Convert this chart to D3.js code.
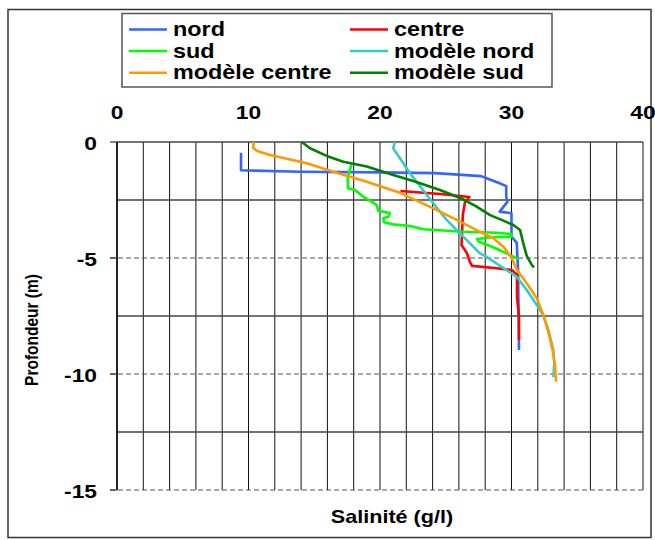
<!DOCTYPE html>
<html>
<head>
<meta charset="utf-8">
<script src="https://cdn.jsdelivr.net/npm/d3@7"></script>
<style>
  html, body { margin: 0; padding: 0; background: #fff; }
  svg { display: block; }
  text { font-family: "Liberation Sans", Arial, sans-serif; font-weight: bold; fill: #000; }
</style>
</head>
<body>
<svg id="chart" width="655" height="540"></svg>
<script>
// Salinity profiles: [salinity g/l, depth m]
const nord = [[9.43,-0.46],[9.43,-1.22],[13.9,-1.28],[20.0,-1.31],[24.2,-1.34],[27.7,-1.47],[28.1,-1.56],[29.1,-1.78],[29.6,-1.90],[29.6,-2.37],[29.7,-2.57],[29.1,-3.0],[30.0,-3.07],[30.0,-4.08],[30.4,-4.35],[30.5,-5.52],[30.57,-8.97]];
const centre = [[21.55,-2.11],[24.56,-2.24],[26.8,-2.37],[26.46,-2.59],[26.3,-3.15],[26.2,-4.44],[26.6,-4.78],[26.84,-5.17],[27.0,-5.34],[28.7,-5.43],[30.04,-5.52],[30.42,-5.73],[30.42,-6.68],[30.57,-7.54],[30.57,-8.53]];
const sud = [[17.85,-0.91],[17.54,-1.56],[17.57,-2.0],[18.1,-2.07],[18.73,-2.36],[19.37,-2.57],[19.75,-2.72],[19.87,-2.97],[20.76,-3.06],[20.63,-3.22],[20.25,-3.29],[20.3,-3.46],[21.0,-3.55],[22.28,-3.62],[23.29,-3.76],[26.33,-3.87],[28.87,-3.91],[30.0,-3.97],[30.0,-4.08],[28.36,-4.11],[27.38,-4.18],[27.5,-4.29],[28.36,-4.48],[28.82,-4.59],[29.5,-4.77],[30.52,-5.04]];
const modeleNord = [[21.14,0],[21.0,-0.27],[21.52,-0.70],[22.28,-1.35],[23.17,-2.0],[24.05,-2.64],[25.07,-3.36],[26.33,-4.08],[27.6,-4.8],[27.98,-4.91],[29.25,-5.38],[30.4,-5.81],[31.16,-6.38],[31.92,-7.03],[32.42,-7.46],[32.8,-8.1],[33.18,-8.97],[33.25,-9.54],[33.18,-10.13]];
const modeleCentre = [[10.42,0],[10.34,-0.24],[10.65,-0.39],[11.63,-0.56],[13.16,-0.75],[14.43,-0.92],[16.45,-1.28],[18.99,-1.71],[21.52,-2.19],[24.05,-2.86],[26.33,-3.5],[27.6,-3.87],[28.62,-4.15],[29.38,-4.51],[30.02,-5.01],[30.42,-5.52],[31.16,-6.09],[31.92,-6.74],[32.42,-7.46],[32.8,-8.18],[33.13,-8.97],[33.31,-9.61],[33.38,-10.33]];
const modeleSud = [[14.05,0],[14.68,-0.27],[15.95,-0.6],[17.21,-0.85],[18.99,-1.06],[21.01,-1.42],[22.53,-1.68],[24.56,-2.07],[26.33,-2.47],[27.35,-2.79],[28.37,-3.15],[29.38,-3.39],[30.14,-3.58],[30.65,-3.79],[30.87,-4.31],[31.16,-4.91],[31.54,-5.30],[31.71,-5.41]];

const seriesNames = ["nord", "centre", "sud", "modèle nord", "modèle centre", "modèle sud"];
const seriesData = [nord, centre, sud, modeleNord, modeleCentre, modeleSud];
const seriesColors = ["#3366ff", "#ff0000", "#00ff00", "#33cccc", "#ff9900", "#008000"];

const xTicks = [0, 10, 20, 30, 40];
const yTicks = [0, -5, -10, -15];
const xGrid = d3.range(0, 41, 2);
const yGridSolid = [0, -2.5, -7.5, -12.5];
const yGridDashed = [-5, -10, -15];

const svg = d3.select("#chart");
const x = d3.scaleLinear().domain([0, 40]).range([117, 643]);
const y = d3.scaleLinear().domain([-15, 0]).range([490, 142]);

// text drawn with a slight horizontal stretch
function label(g, tx, ty, str, size, anchor, rotate) {
  return g.append("text")
    .attr("transform", `translate(${tx},${ty}) scale(1.2,1)` + (rotate ? " rotate(-90)" : ""))
    .attr("text-anchor", anchor)
    .style("font-size", size + "px")
    .text(str);
}

// outer frame
svg.append("rect").attr("x", 8).attr("y", 9.5).attr("width", 643).attr("height", 528)
  .attr("fill", "none").attr("stroke", "#333").attr("stroke-width", 1.5);

// grid
const grid = svg.append("g");
grid.selectAll("line.v").data(xGrid).join("line")
  .attr("x1", d => x(d)).attr("x2", d => x(d))
  .attr("y1", y(0)).attr("y2", y(-15))
  .attr("stroke", "#111").attr("stroke-width", 1);
grid.selectAll("line.hs").data(yGridSolid).join("line")
  .attr("x1", x(0)).attr("x2", x(40))
  .attr("y1", d => y(d)).attr("y2", d => y(d))
  .attr("stroke", "#444").attr("stroke-width", 1.5);
grid.selectAll("line.hd").data(yGridDashed).join("line")
  .attr("x1", x(0) - 7).attr("x2", x(40))
  .attr("y1", d => y(d)).attr("y2", d => y(d))
  .attr("stroke", "#555").attr("stroke-width", 1.2)
  .attr("stroke-dasharray", "5,3");

// left axis line and ticks
svg.append("line").attr("x1", x(0)).attr("x2", x(0)).attr("y1", y(0)).attr("y2", y(-15))
  .attr("stroke", "#000").attr("stroke-width", 1.5);
svg.selectAll("line.tick").data(yTicks).join("line")
  .attr("x1", x(0) - 7).attr("x2", x(0))
  .attr("y1", d => y(d)).attr("y2", d => y(d))
  .attr("stroke", "#333").attr("stroke-width", 1.2);

// tick labels
const labels = svg.append("g");
xTicks.forEach(t => label(labels, x(t), 118.5, String(t), 19, "middle"));
yTicks.forEach(t => label(labels, 97, y(t) + 8, String(t), 19, "end"));

// axis titles
label(svg, 392, 523, "Salinité (g/l)", 18, "middle");
label(svg, 38, 330, "Profondeur (m)", 15.5, "middle", true);

// profiles
const line = d3.line().x(d => x(d[0])).y(d => y(d[1]));
svg.append("g").selectAll("path").data(seriesData).join("path")
  .attr("d", line)
  .attr("fill", "none")
  .attr("stroke", (d, i) => seriesColors[i])
  .attr("stroke-width", 2.6)
  .attr("stroke-linejoin", "round")
  .attr("stroke-linecap", "butt");

// legend
const legend = svg.append("g");
legend.append("rect").attr("x", 122).attr("y", 13.5).attr("width", 430).attr("height", 73.5)
  .attr("fill", "#fff").attr("stroke", "#555").attr("stroke-width", 1.5);
const colX = [129, 350];
const rowY = [29.5, 51, 72.7];
seriesNames.forEach((name, i) => {
  const cx = colX[i % 2], cy = rowY[Math.floor(i / 2)];
  legend.append("line").attr("x1", cx).attr("x2", cx + 38).attr("y1", cy).attr("y2", cy)
    .attr("stroke", seriesColors[i]).attr("stroke-width", 2.6);
  label(legend, cx + 44, cy + 6.5, name, 19.5, "start");
});
</script>
</body>
</html>
